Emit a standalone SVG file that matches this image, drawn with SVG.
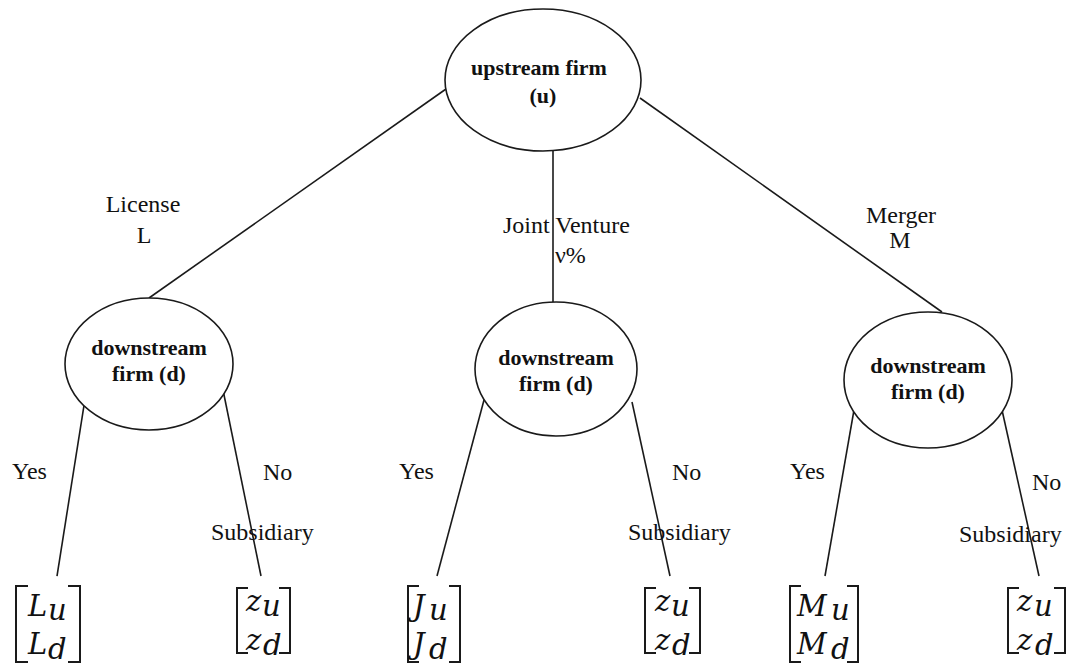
<svg xmlns="http://www.w3.org/2000/svg" width="1069" height="669" viewBox="0 0 1069 669">
  <style>
    .node { fill: #ffffff; stroke: #1a1a1a; stroke-width: 1.6; }
    .edge { stroke: #1a1a1a; stroke-width: 1.6; fill: none; }
    .bracket { stroke: #1a1a1a; stroke-width: 2; fill: none; }
    .title { font-family: "Liberation Serif", "Times New Roman", serif; font-weight: bold; font-size: 22px; fill: #111; text-anchor: middle; }
    .label { font-family: "Liberation Serif", "Times New Roman", serif; font-size: 24px; fill: #111; }
    .math { font-family: "DejaVu Serif", "Liberation Serif", serif; font-style: italic; font-size: 29px; fill: #111; }
  </style>

  <rect width="1069" height="669" fill="#ffffff"/>

  <!-- connectors -->
  <g id="connectors">
    <line class="edge" x1="446" y1="89" x2="149" y2="298"/>
    <line class="edge" x1="553" y1="137" x2="553" y2="302"/>
    <line class="edge" x1="640" y1="98" x2="942" y2="312"/>
    <line class="edge" x1="85" y1="399" x2="57" y2="576"/>
    <line class="edge" x1="223" y1="390" x2="261" y2="576"/>
    <line class="edge" x1="484" y1="400" x2="437" y2="576"/>
    <line class="edge" x1="632" y1="402" x2="670" y2="576"/>
    <line class="edge" x1="854" y1="410" x2="825" y2="576"/>
    <line class="edge" x1="1002" y1="410" x2="1039" y2="576"/>
  </g>

  <!-- root -->
  <g id="node-upstream">
    <ellipse class="node" cx="543" cy="80" rx="98" ry="71"/>
    <text class="title" x="539" y="75">upstream firm</text>
    <text class="title" x="543" y="103">(u)</text>
  </g>

  <!-- second level -->
  <g id="node-downstream-license">
    <ellipse class="node" cx="149" cy="364" rx="84" ry="66"/>
    <text class="title" x="149" y="355">downstream</text>
    <text class="title" x="149" y="381">firm (d)</text>
  </g>
  <g id="node-downstream-jv">
    <ellipse class="node" cx="556" cy="369" rx="81" ry="67"/>
    <text class="title" x="556" y="365">downstream</text>
    <text class="title" x="556" y="391">firm (d)</text>
  </g>
  <g id="node-downstream-merger">
    <ellipse class="node" cx="928" cy="380" rx="84" ry="68"/>
    <text class="title" x="928" y="373">downstream</text>
    <text class="title" x="928" y="399">firm (d)</text>
  </g>

  <!-- edge labels -->
  <g id="edge-labels">
    <text class="label" x="143" y="212" text-anchor="middle">License</text>
    <text class="label" x="144" y="243" text-anchor="middle">L</text>
    <text class="label" x="503" y="233">Joint Venture</text>
    <text class="label" x="555" y="263">ν%</text>
    <text class="label" x="901" y="223" text-anchor="middle">Merger</text>
    <text class="label" x="900" y="248" text-anchor="middle">M</text>

    <text class="label" x="12" y="479">Yes</text>
    <text class="label" x="263" y="480">No</text>
    <text class="label" x="211" y="540">Subsidiary</text>

    <text class="label" x="399" y="479">Yes</text>
    <text class="label" x="672" y="480">No</text>
    <text class="label" x="628" y="540">Subsidiary</text>

    <text class="label" x="790" y="479">Yes</text>
    <text class="label" x="1032" y="490">No</text>
    <text class="label" x="959" y="542">Subsidiary</text>
  </g>

  <!-- payoff vectors: one column vector per leaf -->
  <g id="payoff-license">
    <path class="bracket" d="M28 586 H16 V662 H28"/>
    <path class="bracket" d="M68 586 H80 V662 H68"/>
    <text class="math"><tspan x="28" y="616">L</tspan><tspan x="48" y="620">u</tspan><tspan x="28" y="654">L</tspan><tspan x="48" y="659">d</tspan></text>
  </g>
  <g id="payoff-license-no">
    <path class="bracket" d="M248 588 H237 V653 H248"/>
    <path class="bracket" d="M279 588 H290 V653 H279"/>
    <text class="math"><tspan x="246" y="611">z</tspan><tspan x="262" y="616">u</tspan><tspan x="246" y="650">z</tspan><tspan x="263" y="655">d</tspan></text>
  </g>
  <g id="payoff-jv">
    <path class="bracket" d="M419 586 H408 V662 H419"/>
    <path class="bracket" d="M449 586 H460 V662 H449"/>
    <text class="math"><tspan x="413" y="616">J</tspan><tspan x="429" y="620">u</tspan><tspan x="413" y="654">J</tspan><tspan x="429" y="659">d</tspan></text>
  </g>
  <g id="payoff-jv-no">
    <path class="bracket" d="M656 588 H645 V653 H656"/>
    <path class="bracket" d="M689 588 H700 V653 H689"/>
    <text class="math"><tspan x="655" y="611">z</tspan><tspan x="671" y="616">u</tspan><tspan x="655" y="650">z</tspan><tspan x="672" y="655">d</tspan></text>
  </g>
  <g id="payoff-merger">
    <path class="bracket" d="M801 586 H790 V662 H801"/>
    <path class="bracket" d="M847 586 H858 V662 H847"/>
    <text class="math"><tspan x="797" y="616">M</tspan><tspan x="831" y="620">u</tspan><tspan x="797" y="654">M</tspan><tspan x="831" y="659">d</tspan></text>
  </g>
  <g id="payoff-merger-no">
    <path class="bracket" d="M1019 588 H1008 V653 H1019"/>
    <path class="bracket" d="M1054 588 H1065 V653 H1054"/>
    <text class="math"><tspan x="1017" y="611">z</tspan><tspan x="1034" y="616">u</tspan><tspan x="1017" y="650">z</tspan><tspan x="1035" y="655">d</tspan></text>
  </g>
</svg>
